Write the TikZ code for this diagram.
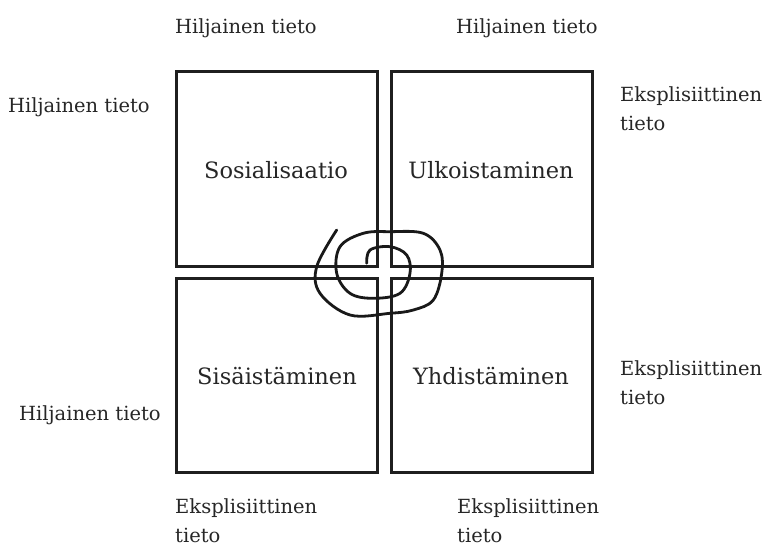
\documentclass[tikz,border=0pt]{standalone}
\usepackage{fontspec}
\setmainfont{DejaVu Serif}
\begin{document}
\begin{tikzpicture}[x=1pt,y=-1pt,
  quad/.style={draw=black!88,line width=3pt},
  lbl/.style={font=\fontsize{19.5}{29}\selectfont,text=black!85,inner sep=0pt,align=left},
  qtext/.style={font=\fontsize{22.5}{26}\selectfont,text=black!85,inner sep=0pt}]
\useasboundingbox (0,0) rectangle (769,548);
\draw[quad] (176,72) rectangle (377,267);
\draw[quad] (391,72) rectangle (592,267);
\draw[quad] (176,279) rectangle (377,472);
\draw[quad] (391,279) rectangle (592,472);
\node[qtext,anchor=base] (so) at (276,179) {Sosialisaatio};
\node[qtext,anchor=base] (ul) at (491,179) {Ulkoistaminen};
\node[qtext,anchor=base] (si) at (277,384) {Sisäistäminen};
\node[qtext,anchor=base] (yh) at (491,384) {Yhdistäminen};
\node[lbl,anchor=base west] (h1) at (175,34) {Hiljainen tieto};
\node[lbl,anchor=base west] (h2) at (456,34) {Hiljainen tieto};
\node[lbl,anchor=base west] (h3) at (8,113) {Hiljainen tieto};
\node[lbl,anchor=base west] (h4) at (19,420) {Hiljainen tieto};
\node[lbl,anchor=north west] (e1) at (620,86) {Eksplisiittinen\\tieto};
\node[lbl,anchor=north west] (e2) at (620,360) {Eksplisiittinen\\tieto};
\node[lbl,anchor=north west] (e3) at (175,498) {Eksplisiittinen\\tieto};
\node[lbl,anchor=north west] (e4) at (457,498) {Eksplisiittinen\\tieto};
\draw[line width=2.8pt,black!90,line cap=round] plot[smooth,tension=0.6] coordinates {
 (366.7,263.3) (370,250) (390,246.7) (406.7,255) (410,273.3) (400,293.3)
 (373.3,298.3) (350,293.3) (336.7,273.3) (340,246.7) (363.3,233.3) (390,231.7)
 (423.3,233.3) (440,250) (441.7,273.3) (433.3,300) (413.3,310) (390,313.3)
 (350,315) (320,293.3) (316.7,266.7) (336.7,230)};
\end{tikzpicture}
\end{document}
